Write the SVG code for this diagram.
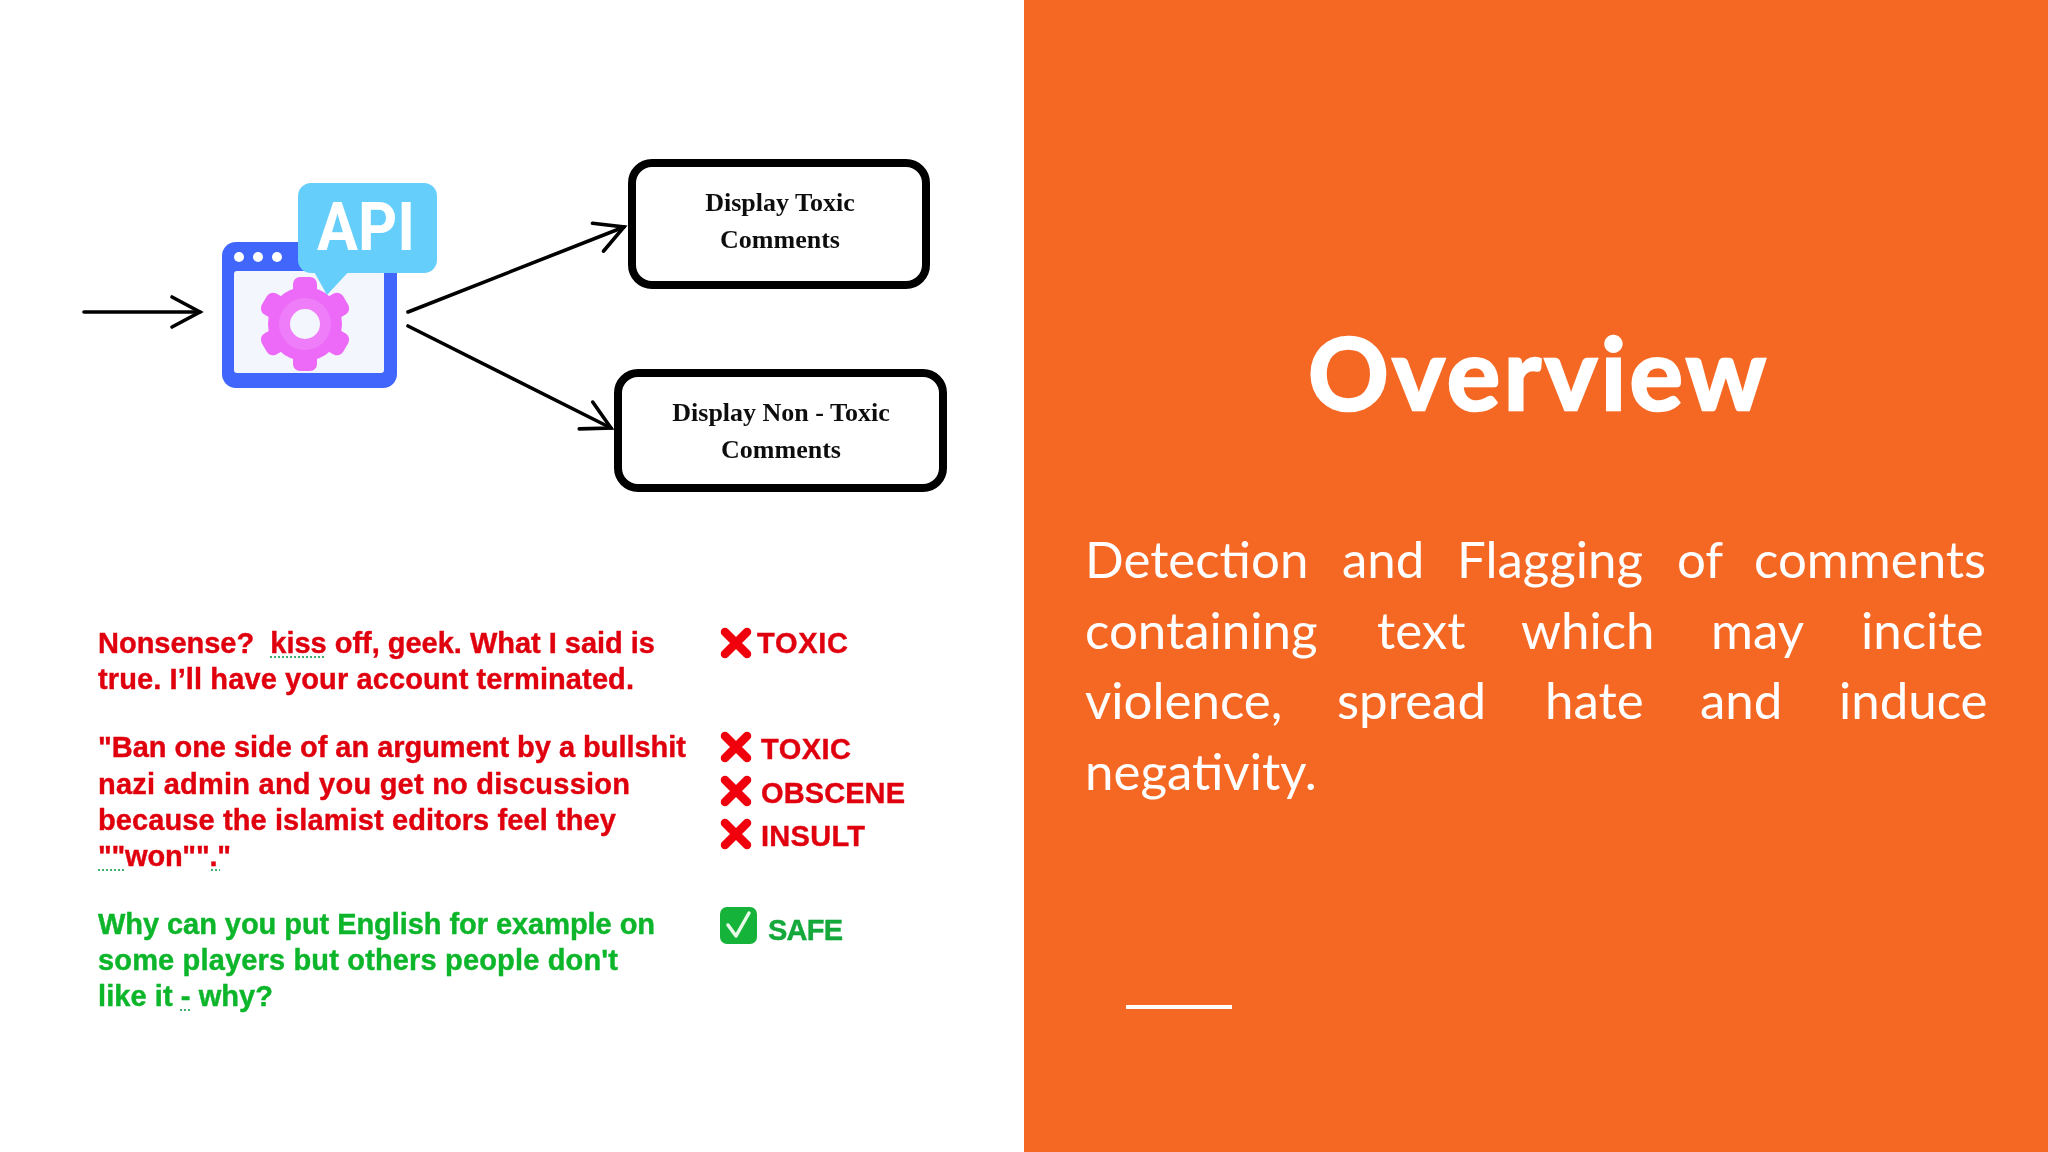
<svg xmlns="http://www.w3.org/2000/svg" width="2048" height="1152" viewBox="0 0 2048 1152">
<style>
.box{fill:#fff;stroke:#000;stroke-width:8}
.bt{font-family:"Liberation Serif",serif;font-weight:700;font-size:26px;fill:#111;text-anchor:middle}
.c{font-family:"Liberation Sans",Arial,sans-serif;font-weight:700;font-size:29px;white-space:pre;stroke-width:.4}
.r{fill:#e0000f;stroke:#e0000f}
.g{fill:#0bb52a;stroke:#0bb52a}
.conn{fill:none;stroke:#000;stroke-width:3.6;stroke-linecap:round}
.x{stroke:#f00009;stroke-width:8.5;stroke-linecap:round;fill:none}
.dots{stroke:#3fae6c;stroke-width:2;stroke-dasharray:2 2;fill:none}
.tooth{fill:#ec6bf7}
.body{font-family:Lato,sans-serif;font-weight:400;font-size:51px;fill:#fff}
.soft{filter:url(#soft)}
</style>
<defs>
<filter id="soft" x="-5%" y="-5%" width="110%" height="110%"><feGaussianBlur stdDeviation="0.6"/></filter>
<marker id="head" markerUnits="userSpaceOnUse" markerWidth="40" markerHeight="40" refX="34" refY="20" orient="auto">
<path d="M6 5L34 20L6 35" fill="none" stroke="#000" stroke-width="3.6" stroke-linecap="round" stroke-linejoin="miter"/>
</marker>
<path id="xm" class="x" d="M-11 -11L11 11M11 -11L-11 11"/>
</defs>
<rect width="2048" height="1152" fill="#fff"/>
<rect id="panel" x="1024" width="1024" height="1152" fill="#f56824"/>

<g id="connectors" class="soft">
<path class="conn" marker-end="url(#head)" d="M84 312H200"/>
<path class="conn" marker-end="url(#head)" d="M408 312L624 227"/>
<path class="conn" marker-end="url(#head)" d="M408 326L611 428"/>
</g>

<g id="api-icon" class="soft">
<rect x="222" y="242" width="175" height="146" rx="14" fill="#4166fb"/>
<rect x="234" y="271" width="150" height="102" rx="3" fill="#f3f6fc"/>
<circle cx="239" cy="257" r="5" fill="#fff"/>
<circle cx="258" cy="257" r="5" fill="#fff"/>
<circle cx="277" cy="257" r="5" fill="#fff"/>
<g transform="translate(305 324)">
<circle r="37" class="tooth"/>
<rect class="tooth" x="-12" y="-47" width="24" height="94" rx="7"/>
<rect class="tooth" x="-12" y="-47" width="24" height="94" rx="7" transform="rotate(60)"/>
<rect class="tooth" x="-12" y="-47" width="24" height="94" rx="7" transform="rotate(120)"/>
<circle r="26" fill="#ef7dfa"/>
<circle r="15" fill="#f3f6fc"/>
</g>
<path d="M312 268H352L327 295Z" fill="#66cefb"/>
<rect x="298" y="183" width="139" height="90" rx="13" fill="#66cefb"/>
<text x="317" y="250" textLength="98" lengthAdjust="spacingAndGlyphs" font-family="Roboto,sans-serif" font-weight="700" font-size="66" fill="#fff">API</text>
</g>

<g id="node-toxic" class="soft">
<rect class="box" x="632" y="163" width="294" height="122" rx="20"/>
<text class="bt" x="780" y="211">Display Toxic</text>
<text class="bt" x="780" y="248">Comments</text>
</g>
<g id="node-non-toxic" class="soft">
<rect class="box" x="618" y="373" width="325" height="115" rx="20"/>
<text class="bt" x="781" y="421">Display Non - Toxic</text>
<text class="bt" x="781" y="458">Comments</text>
</g>

<g id="example-1" class="soft">
<text class="c r" x="98" y="653" textLength="557">Nonsense?  kiss off, geek. What I said is</text>
<text class="c r" x="98" y="689" textLength="536">true. I’ll have your account terminated.</text>
<path class="dots" d="M270 657H325"/>
<use href="#xm" x="736" y="643"/>
<text class="c r" x="757" y="653" textLength="91">TOXIC</text>
</g>
<g id="example-2" class="soft">
<text class="c r" x="98" y="757" textLength="588">"Ban one side of an argument by a bullshit</text>
<text class="c r" x="98" y="794" textLength="532">nazi admin and you get no discussion</text>
<text class="c r" x="98" y="830" textLength="518">because the islamist editors feel they</text>
<text class="c r" x="98" y="866" textLength="133">""won""."</text>
<path class="dots" d="M98 870H124M211 870H220"/>
<use href="#xm" x="736" y="747"/>
<use href="#xm" x="736" y="791"/>
<use href="#xm" x="736" y="834"/>
<text class="c r" x="761" y="759" textLength="90">TOXIC</text>
<text class="c r" x="761" y="803" textLength="144">OBSCENE</text>
<text class="c r" x="761" y="846" textLength="104">INSULT</text>
</g>
<g id="example-3" class="soft">
<text class="c g" x="98" y="934" textLength="557">Why can you put English for example on</text>
<text class="c g" x="98" y="970" textLength="520">some players but others people don't</text>
<text class="c g" x="98" y="1006" textLength="175">like it - why?</text>
<path class="dots" d="M180 1010H190"/>
<rect x="720" y="907" width="37" height="37" rx="7" fill="#16b33a"/>
<path d="M728 925L736 936L749 913" fill="none" stroke="#e8fbe8" stroke-width="3.5" stroke-linecap="round" stroke-linejoin="round"/>
<text class="c" fill="#12a83a" stroke="#12a83a" x="768" y="940" textLength="75">SAFE</text>
</g>

<g id="overview-panel">
<text x="1308" y="410" font-family="Lato,sans-serif" font-weight="700" font-size="100" fill="#fff" stroke="#fff" stroke-width="2.5" textLength="458">Overview</text>
<g class="body">
<text x="1085" y="578">Detection</text><text x="1342" y="578">and</text><text x="1457" y="578">Flagging</text><text x="1677" y="578">of</text><text x="1754" y="578">comments</text>
<text x="1085" y="649">containing</text><text x="1377" y="649">text</text><text x="1521" y="649">which</text><text x="1711" y="649">may</text><text x="1861" y="649">incite</text>
<text x="1085" y="719">violence,</text><text x="1337" y="719">spread</text><text x="1545" y="719">hate</text><text x="1700" y="719">and</text><text x="1839" y="719">induce</text>
<text x="1085" y="790">negativity.</text>
</g>
<rect x="1126" y="1005" width="106" height="4" fill="#fff"/>
</g>
</svg>
